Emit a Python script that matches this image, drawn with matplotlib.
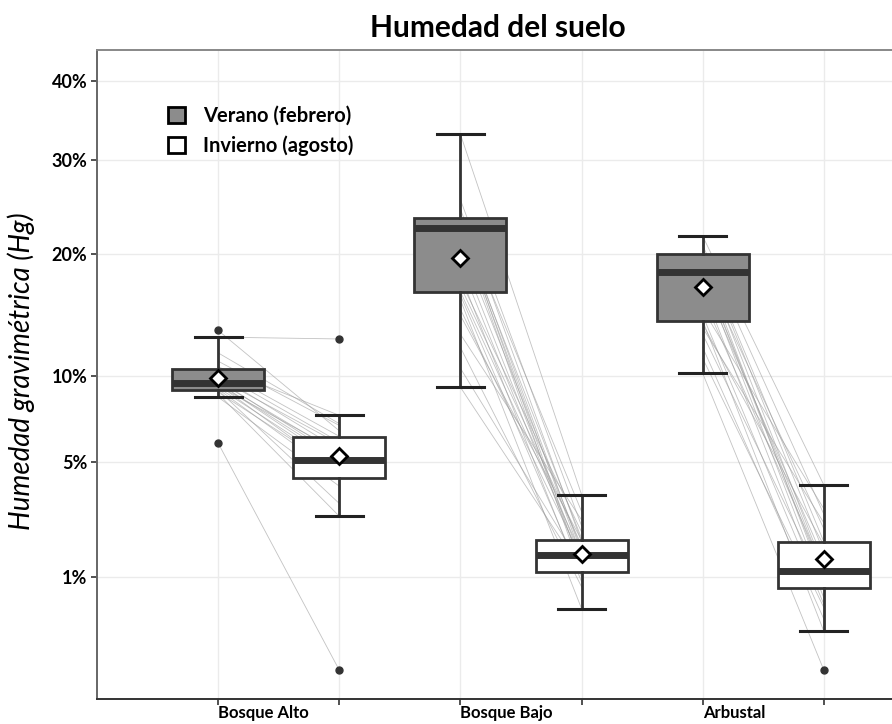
import numpy as np
import matplotlib
matplotlib.use("Agg")
import matplotlib.pyplot as plt
from matplotlib.patches import Patch

plt.rcParams['font.family'] = ['Lato', 'DejaVu Sans']

# ---- data (gravimetric soil moisture, %) ----
sites = ["Bosque Alto", "Bosque Bajo", "Arbustal"]
seasons = ["Verano (febrero)", "Invierno (agosto)"]

# box summaries, order: BA-verano, BA-invierno, BB-verano, BB-invierno, AR-verano, AR-invierno
q1 = [9.04, 4.26, 16.5, 1.12, 14.07, 0.77]
medians = [9.49, 5.07, 22.5, 1.53, 18.3, 1.13]
q3 = [10.44, 6.27, 23.6, 1.95, 20.0, 1.90]
whisker_lo = [8.59, 2.73, 9.22, 0.435, 10.15, 0.174]
whisker_hi = [12.78, 7.48, 33.1, 3.55, 21.7, 3.95]
means = [9.83, 5.27, 19.6, 1.55, 16.9, 1.42]
outliers = [[13.3, 5.94], [12.64, 0.0], [], [], [], [0.0]]

# paired plots (summer -> winter) per site
ba_summer = [13.3, 12.78, 11.6, 11.0, 10.6, 10.44, 10.2, 10.0, 9.8, 9.7, 9.6,
             9.5, 9.49, 9.4, 9.3, 9.2, 9.1, 9.04, 8.9, 8.8, 8.59, 5.94]
ba_winter = [6.6, 12.64, 7.0, 6.9, 7.48, 6.3, 6.0, 5.6, 5.9, 5.2, 5.4,
             4.9, 5.1, 4.5, 5.5, 4.8, 4.3, 3.2, 4.6, 2.73, 3.9, 0.0]
bb_summer = [33.1, 25.5, 24.5, 23.6, 23.0, 22.8, 22.5, 22.5, 22.3, 21.0, 20.0, 19.0,
             18.0, 17.5, 17.0, 16.5, 16.2, 15.8, 15.0, 14.5, 13.0, 12.0, 10.5, 9.22]
bb_winter = [3.55, 2.4, 1.9, 2.9, 1.6, 1.2, 1.5, 2.0, 1.1, 1.7, 1.4, 1.3,
             0.9, 2.2, 1.8, 1.55, 1.0, 0.435, 1.45, 1.95, 2.6, 0.8, 1.25, 1.15]
ar_summer = [21.7, 20.8, 20.2, 20.0, 19.5, 19.0, 18.6, 18.3, 18.3, 18.0, 17.5,
             16.8, 16.0, 15.0, 14.5, 14.07, 13.8, 13.0, 12.0, 11.2, 10.15, 13.5]
ar_winter = [3.95, 2.8, 1.9, 1.6, 1.2, 0.9, 2.3, 1.13, 1.0, 0.77, 1.4,
             0.6, 1.15, 3.0, 0.5, 0.174, 1.8, 0.85, 0.3, 0.45, 0.0, 2.5]
pairs = [(ba_summer, ba_winter), (bb_summer, bb_winter), (ar_summer, ar_winter)]

ytick_values = [1, 5, 10, 20, 30, 40]

# ---- figure ----
fig = plt.figure(figsize=(8.92, 7.24), dpi=100)
ax = fig.add_axes([97 / 892, 25 / 724, 848 / 892, 649 / 724])


def fwd(v):
    v = np.asarray(v, dtype=float)
    return np.sign(v) * np.sqrt(np.abs(v))


def inv(v):
    v = np.asarray(v, dtype=float)
    return np.sign(v) * v ** 2


# square-root scale for the moisture axis
ax.set_yscale('function', functions=(fwd, inv))
ax.set_ylim(-0.0961, 44.32)
ax.set_xlim(0, 7)

positions = [1, 2, 3, 4, 5, 6]

# paired lines, under the boxes
for i, (s, w) in enumerate(pairs):
    xs = positions[2 * i]
    xw = positions[2 * i + 1]
    for a, b in zip(s, w):
        ax.plot([xs, xw], [a, b], color='#9a9a9a', lw=0.6, alpha=0.6, zorder=2)

stats = []
for k in range(6):
    stats.append(dict(q1=q1[k], med=medians[k], q3=q3[k], whislo=whisker_lo[k],
                      whishi=whisker_hi[k], mean=means[k], fliers=outliers[k]))

bp = ax.bxp(stats, positions=positions, widths=0.76, capwidths=0.39,
            patch_artist=True, showmeans=True, manage_ticks=False,
            boxprops=dict(edgecolor='#333333', linewidth=2.0),
            whiskerprops=dict(color='#333333', linewidth=2.0),
            capprops=dict(color='#222222', linewidth=2.2),
            medianprops=dict(color='#333333', linewidth=5.0, solid_capstyle='butt'),
            meanprops=dict(marker='D', markerfacecolor='white', markeredgecolor='black',
                           markeredgewidth=2.0, markersize=8),
            flierprops=dict(marker='o', markerfacecolor='#333333', markeredgecolor='#333333',
                            markersize=5))
fills = ['#8c8c8c', 'white'] * 3
for patch, c in zip(bp['boxes'], fills):
    patch.set_facecolor(c)
    patch.set_zorder(3)
for key in ('whiskers', 'caps', 'medians'):
    for ln in bp[key]:
        ln.set_zorder(3.5)
for ln in bp['means'] + bp['fliers']:
    ln.set_zorder(5)

# ticks and grid
ax.set_yticks(ytick_values)
ax.set_yticklabels([f"{v}%" for v in ytick_values], fontsize=13, fontweight='bold')
ax.yaxis.set_minor_locator(matplotlib.ticker.NullLocator())
ax.set_xticks(positions)
ax.set_xticklabels([sites[0], "", sites[1], "", sites[2], ""], fontsize=12,
                   fontweight='bold', ha='left')
ax.grid(True, color='#ebebeb', lw=1.0, zorder=0)
ax.set_axisbelow(True)
ax.tick_params(axis='both', length=4, width=1.2, color='#333333', pad=3,
               labelcolor='black')
ax.tick_params(axis='x', pad=0.5)
for sp in ax.spines.values():
    sp.set_color('#666666')
    sp.set_linewidth(1.4)
ax.spines['top'].set_color('#888888')
ax.spines['bottom'].set_color('#333333')

ax.set_ylabel("Humedad gravimétrica (Hg)", fontsize=20, style='italic')
ax.yaxis.set_label_coords(-62 / 848, (699 - 371) / 649)

fig.text(498 / 892, 1 - 28 / 724, "Humedad del suelo", fontsize=21.5,
         fontweight='bold', ha='center', va='center')

handles = [Patch(facecolor='#8c8c8c', edgecolor='black', linewidth=2),
           Patch(facecolor='white', edgecolor='black', linewidth=2)]
fig.legend(handles, seasons, loc='upper left',
           bbox_to_anchor=(150 / 892, 1 - 88 / 724), frameon=False,
           prop=dict(weight='bold', size=14.5), handlelength=0.85, handleheight=0.85,
           handletextpad=0.9, labelspacing=0.45)

fig.savefig("out.png", dpi=100)
